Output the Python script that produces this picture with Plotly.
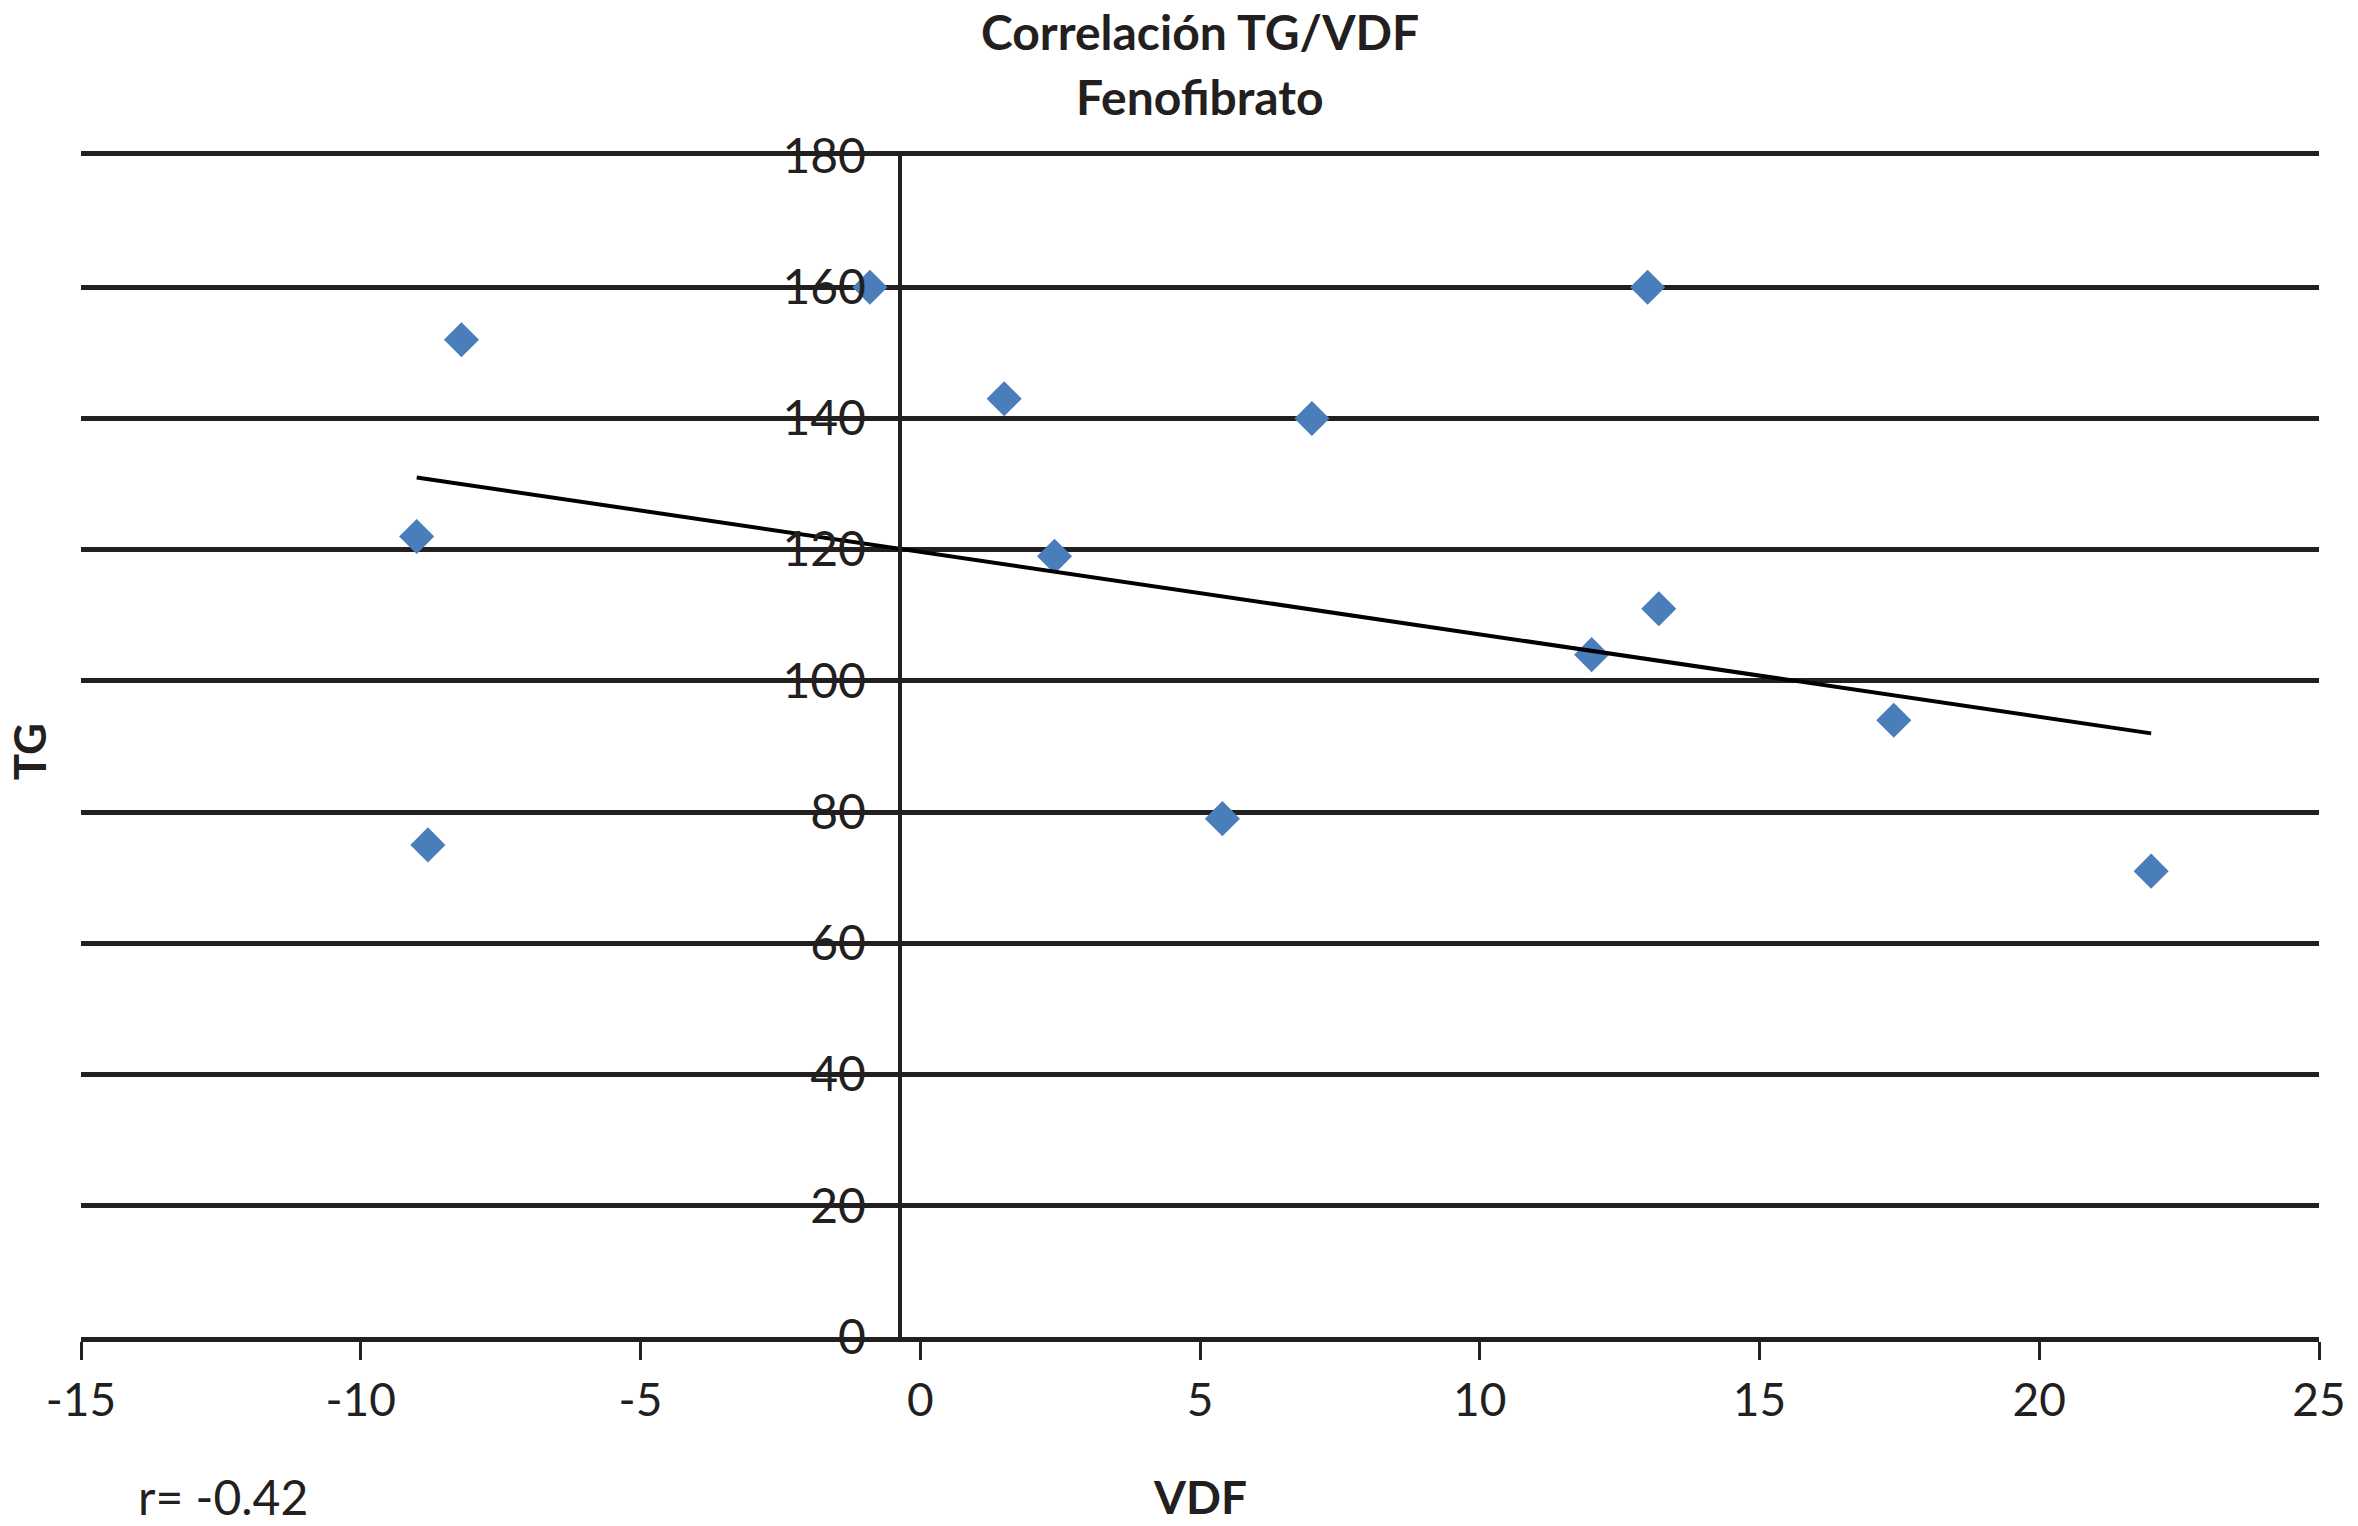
import plotly.graph_objects as go

# Data
vdf = [-0.9, -8.2, 1.5, 7.0, 13.0, -9.0, 2.4, 13.2, 12.0, 17.4, -8.8, 5.4, 22.0]
tg = [160, 152, 143, 140, 160, 122, 119, 111, 104, 94, 75, 79, 71]

trend_x = [-9.0, 22.0]
trend_y = [131.0, 92.0]

x_ticks = [-15, -10, -5, 0, 5, 10, 15, 20, 25]
y_ticks = [0, 20, 40, 60, 80, 100, 120, 140, 160, 180]

title_1 = "Correlación TG/VDF"
title_2 = "Fenofibrato"
x_title = "VDF"
y_title = "TG"
r_text = "r= -0.42"
y_axis_cross = -0.37  # x value where the vertical axis crosses

FONT = "Lato, 'Liberation Sans', sans-serif"
INK = "#231f20"

W, H = 2358, 1526
plot_left, plot_right, plot_top, plot_bottom = 81, 2330, 156, 1337
L = plot_left
T = plot_top
R = W - plot_right
B = H - plot_bottom
x_range = [-15, 25]


def px(xp):
    return (xp - plot_left) / (plot_right - plot_left)


def py(yp):
    return (plot_bottom - yp) / (plot_bottom - plot_top)


fig = go.Figure()
fig.add_trace(go.Scatter(
    x=vdf, y=tg, mode="markers",
    marker=dict(symbol="diamond", size=27, color="#4A7EBB", line=dict(width=0)),
    showlegend=False, hoverinfo="x+y",
))
fig.add_trace(go.Scatter(
    x=trend_x, y=trend_y, mode="lines",
    line=dict(color="#000000", width=4),
    showlegend=False, hoverinfo="skip",
))

pos = (y_axis_cross - x_range[0]) / (x_range[1] - x_range[0])

fig.update_layout(
    width=W, height=H,
    margin=dict(l=L, r=R, t=T, b=B),
    paper_bgcolor="white", plot_bgcolor="white",
    font=dict(family=FONT, size=48, color=INK),
    xaxis=dict(
        range=x_range, tickvals=x_ticks, ticktext=[str(v) for v in x_ticks],
        showgrid=False, zeroline=False,
        showline=True, linecolor=INK, linewidth=4.5, mirror=True,
        ticks="outside", ticklen=18, tickwidth=3, tickcolor=INK,
        tickfont=dict(family=FONT, size=46, color=INK),
        ticklabelstandoff=1, ticklabeloverflow="allow",
    ),
    yaxis=dict(
        range=[0, 180], tickvals=y_ticks, ticktext=[str(v) for v in y_ticks],
        anchor="free", position=pos,
        showgrid=True, gridcolor=INK, gridwidth=4.5,
        zeroline=False,
        showline=True, linecolor=INK, linewidth=4,
        ticks="", tickfont=dict(family=FONT, size=48, color=INK),
        ticklabelstandoff=22, ticklabeloverflow="allow",
    ),
    annotations=[
        dict(text="<b>%s</b>" % title_1, xref="paper", yref="paper",
             x=px(1206), y=py(31), xanchor="center", yanchor="middle",
             showarrow=False, font=dict(family=FONT, size=48, color=INK)),
        dict(text="<b>%s</b>" % title_2, xref="paper", yref="paper",
             x=px(1206), y=py(96), xanchor="center", yanchor="middle",
             showarrow=False, font=dict(family=FONT, size=48, color=INK)),
        dict(text="<b>%s</b>" % x_title, xref="paper", yref="paper",
             x=px(1205), y=py(1496), xanchor="center", yanchor="middle",
             showarrow=False, font=dict(family=FONT, size=46, color=INK)),
        dict(text="<b>%s</b>" % y_title, xref="paper", yref="paper",
             x=px(29), y=py(752), xanchor="center", yanchor="middle", textangle=-90,
             showarrow=False, font=dict(family=FONT, size=44, color=INK)),
        dict(text=r_text, xref="paper", yref="paper",
             x=px(224), y=py(1496), xanchor="center", yanchor="middle",
             showarrow=False, font=dict(family=FONT, size=48, color=INK)),
    ],
)

fig.write_html(
    "out.html",
    config={"displayModeBar": False},
    post_script=(
        "document.documentElement.style.overflow='hidden';"
        "document.body.style.margin='0';document.body.style.overflow='hidden';"
    ),
)
